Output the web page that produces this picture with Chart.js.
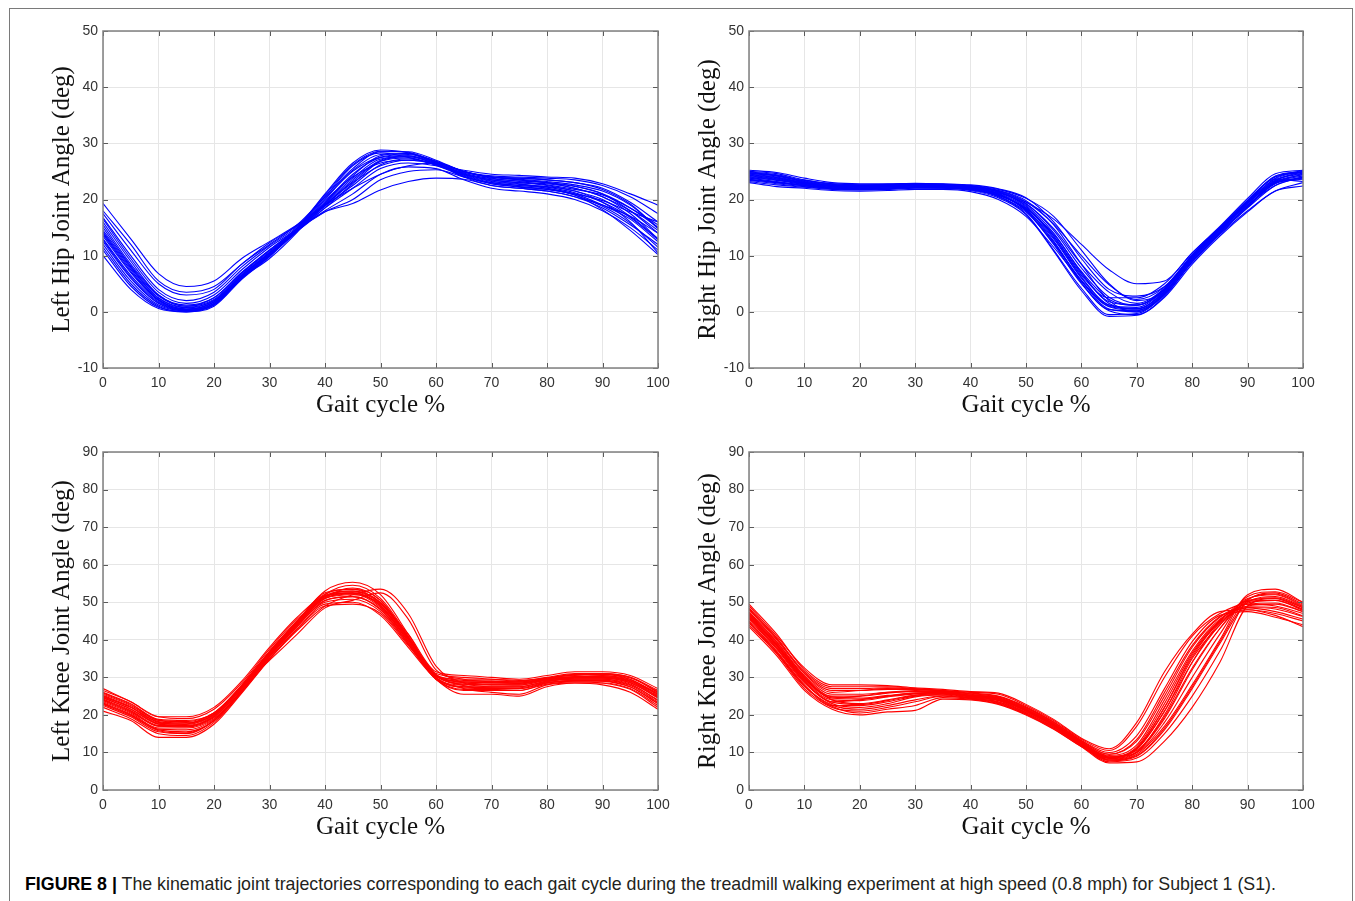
<!DOCTYPE html>
<html>
<head>
<meta charset="utf-8">
<title>Gait joint trajectories</title>
<script src="https://cdn.jsdelivr.net/npm/chart.js@4.4.1/dist/chart.umd.min.js"></script>
<style>
    html, body { margin: 0; padding: 0; background: #fff; }
    body { width: 1355px; height: 901px; position: relative; overflow: hidden; }
    .frame {
        position: absolute; left: 9px; top: 8px; width: 1344px; height: 1000px;
        border: 1.5px solid #7a7a7a; box-sizing: border-box;
    }
    canvas { position: absolute; }
    #leftHip   { left: 40px;  top: 15px; }
    #rightHip  { left: 686px; top: 15px; }
    #leftKnee  { left: 40px;  top: 436px; }
    #rightKnee { left: 686px; top: 436px; }
    .caption {
        position: absolute; left: 25px; top: 873px;
        font-family: "Liberation Sans", Arial, sans-serif; font-size: 17.8px; line-height: 22px;
        color: #231f20; white-space: nowrap;
    }
    .caption b { color: #000; }
</style>
</head>
<body>
<div class="frame"></div>
<canvas id="leftHip" width="638" height="406"></canvas>
<canvas id="rightHip" width="637" height="406"></canvas>
<canvas id="leftKnee" width="638" height="407"></canvas>
<canvas id="rightKnee" width="637" height="407"></canvas>
<div class="caption"><b>FIGURE 8 |</b> The kinematic joint trajectories corresponding to each gait cycle during the treadmill walking experiment at high speed (0.8 mph) for Subject 1 (S1).</div>

<script>
// ================= DATA =================
// gait cycle samples (%), one value per sample in every cycle below
const gaitPct = [0, 5, 10, 15, 20, 25, 30, 35, 40, 45, 50, 55, 60, 65, 70, 75, 80, 85, 90, 95, 100];

const hipTicks = [-10, 0, 10, 20, 30, 40, 50];
const kneeTicks = [0, 10, 20, 30, 40, 50, 60, 70, 80, 90];

// left hip angle (deg), one row per gait cycle
const leftHipCycles = [
    [19.3, 13, 6.8, 4.5, 5.5, 9.5, 12.5, 15.5, 19, 22, 24.5, 26, 26.5, 25, 24, 23.5, 23, 22, 20.5, 17.5, 13],
    [17.5, 11, 5, 3, 4, 8.5, 12, 15.5, 20.5, 25.5, 28.5, 28.5, 27, 25, 24, 23.8, 23.5, 23, 22, 19.5, 16],
    [16.5, 9.5, 3.5, 1.5, 3, 7.5, 11.5, 15, 21, 26.5, 28.8, 28.3, 26.5, 24.5, 23.5, 23, 22.5, 21.5, 20, 17, 13],
    [15.5, 8.5, 3, 1, 2.5, 7, 11, 14.8, 19.5, 24.5, 27.5, 28, 26.8, 25, 24.2, 24, 23.8, 23.5, 22.5, 20.5, 17.5],
    [14.5, 8, 2.5, 0.8, 2, 6.5, 10.5, 14.5, 19, 23.5, 27, 27.8, 26.5, 24, 22.5, 22, 21.5, 20.5, 18.5, 15.5, 12],
    [13.5, 7, 2, 0.3, 1.5, 6, 10, 14.5, 18.5, 22, 25.5, 26.5, 26, 24.5, 23.5, 23, 22.8, 22, 20.5, 18, 14.5],
    [12.5, 6, 1.5, 0.2, 1.5, 6.2, 10.2, 14.6, 18, 21, 24.5, 25.8, 25.5, 23.5, 22, 21.5, 21, 20, 18, 15, 11],
    [11.5, 5, 1, 0, 1, 5.8, 9.8, 14.4, 17.8, 20, 23.5, 25, 25.3, 24, 23, 22.5, 22, 21, 19, 16.5, 12.5],
    [12, 5.5, 1.2, 0.2, 1.2, 6, 10, 14.5, 17.8, 19.3, 21.7, 23.2, 23.8, 23.6, 22.5, 22, 21.5, 20.5, 19, 17, 14],
    [10, 4, 0.6, 0, 1.2, 6, 9.5, 14.2, 20, 25, 27.5, 27.8, 26.3, 24.8, 24, 23.5, 23, 22.3, 21, 18.5, 15],
    [16, 9, 3, 1.2, 2.5, 7, 11, 15, 20.5, 26, 28.3, 27.5, 26.2, 25.2, 24.5, 24.3, 24, 23.8, 22.8, 21, 19],
    [14, 7.5, 2.2, 0.5, 1.8, 6.5, 10.3, 14.7, 19.8, 24, 26.5, 27, 26.2, 24.3, 23, 22.5, 22.3, 21.5, 19.5, 16, 10.5],
    [18, 12, 5.5, 3.5, 4.5, 8.5, 12.3, 15.3, 19, 23, 26, 27, 26.5, 25, 23.8, 23.2, 22.6, 21.8, 20.8, 18.5, 15.5],
    [13, 6.5, 1.8, 0.4, 1.7, 6.3, 10.4, 14.6, 18.8, 22.5, 26.2, 27.2, 26.2, 24.6, 23.3, 22.8, 22, 20.8, 18.8, 15.8, 11.5],
    [15, 8.2, 2.8, 1, 2.2, 6.8, 10.8, 14.8, 20.2, 25.2, 28, 28.2, 26.6, 24.7, 23.7, 23.3, 23, 22.4, 21, 18, 14],
    [12.8, 6.2, 1.6, 0.3, 1.5, 6.1, 10.1, 14.5, 19.2, 23.8, 27.2, 27.6, 26.4, 24.4, 23.2, 22.7, 22.2, 21.2, 19.5, 16.8, 12.8],
    [16.8, 10, 4, 2, 3.5, 8, 11.8, 15.2, 20.8, 26.2, 28.6, 28.4, 26.8, 25, 24, 23.6, 23.2, 22.6, 21.5, 19, 15],
    [11, 4.6, 0.8, 0.1, 1.3, 6, 9.9, 14.3, 18.5, 22.8, 26.8, 27.6, 26.3, 24.2, 22.8, 22.2, 21.8, 21, 19.8, 17.8, 16],
    [14.2, 7.8, 2.4, 0.7, 2, 6.6, 10.6, 14.7, 19.4, 24.2, 27.8, 28.2, 26.7, 25, 24, 23.8, 23.5, 23, 21.8, 19.2, 14.8],
    [13.8, 7.2, 2.1, 0.5, 1.8, 6.4, 10.4, 14.6, 19, 23.2, 26.8, 27.4, 26.1, 24.1, 22.8, 22.3, 21.8, 20.8, 18.2, 14.5, 10.2]
];

// right hip angle (deg)
const rightHipCycles = [
    [25, 24.6, 23.5, 22.8, 22.6, 22.6, 22.6, 22.4, 22.2, 21.3, 19, 14, 7, 1.5, 0.5, 3.5, 9.5, 14.5, 19, 23, 24.5],
    [24.5, 24, 23, 22.5, 22.5, 22.7, 22.8, 22.6, 22.4, 21.6, 19.8, 15.5, 8.5, 2, 0, 3, 9, 14, 18.5, 22.5, 24],
    [24, 23.5, 22.8, 22.3, 22.2, 22.3, 22.4, 22.3, 22, 21, 18, 12, 5, 0.2, -0.5, 2.8, 9, 14.2, 18.8, 23.3, 25],
    [23.5, 23, 22.5, 22, 22, 22, 22.2, 22.2, 21.8, 20.5, 17.5, 11, 4.2, -0.5, -0.3, 3.2, 9.5, 14.8, 19.5, 23.8, 25.2],
    [23, 22.3, 22, 21.6, 21.5, 21.6, 21.8, 21.8, 21.4, 20, 17, 11.5, 5.5, 1, 0.5, 3.8, 10, 15, 19.8, 24, 24.8],
    [24.8, 24.3, 23.3, 22.7, 22.4, 22.5, 22.7, 22.7, 22.5, 21.8, 20.2, 17, 11, 5, 2, 3.5, 9.2, 13.8, 18, 21.5, 23],
    [24.2, 23.7, 22.9, 22.4, 22.3, 22.4, 22.6, 22.5, 22.3, 21.5, 19.5, 16.5, 12, 7.5, 5, 5.5, 10.5, 15, 19, 22.5, 24],
    [23.8, 23.2, 22.6, 22.1, 22, 22.1, 22.3, 22.2, 21.9, 20.8, 18.2, 13, 6, 1.2, 0.8, 4, 9.8, 14.5, 19.3, 23.5, 24.7],
    [24.6, 24.2, 23.2, 22.6, 22.4, 22.6, 22.8, 22.7, 22.4, 21.4, 18.8, 13.5, 6.5, 2.5, 2.5, 5, 10.5, 15.2, 20.2, 24.6, 25.2],
    [23.2, 22.6, 22.2, 21.8, 21.7, 21.8, 22, 22, 21.6, 20.3, 17.3, 10.8, 3.8, -0.8, -0.6, 2.6, 8.5, 13.5, 17.8, 21.5, 22.4],
    [24.3, 23.8, 23, 22.5, 22.3, 22.4, 22.5, 22.4, 22.1, 21.2, 19.2, 14.8, 8.5, 3.5, 1.5, 4.2, 10, 14.8, 19.5, 23, 23.8],
    [23.6, 23, 22.4, 22, 21.9, 22, 22.1, 22, 21.7, 20.7, 18.5, 13.5, 6.8, 1.8, 1.2, 4, 9.6, 14.2, 18.8, 22.8, 24],
    [25.2, 24.8, 23.8, 23, 22.8, 22.8, 22.9, 22.8, 22.6, 21.9, 20.3, 16, 9.5, 4, 2.8, 4.5, 10.2, 15, 19.8, 24.2, 25],
    [23.4, 22.8, 22.3, 21.9, 21.8, 21.9, 22.1, 22.1, 21.8, 20.6, 17.8, 12.2, 5.5, 0.5, 0, 3.3, 9.3, 14.6, 19.6, 23.6, 23.2],
    [24.4, 23.9, 22.9, 22.4, 22.3, 22.4, 22.5, 22.4, 22.1, 21.1, 18.6, 13.2, 6.2, 1.2, 0.6, 3.6, 9.6, 14.6, 19.4, 23.4, 24.6],
    [23.9, 23.4, 22.7, 22.2, 22.1, 22.2, 22.4, 22.3, 22, 20.9, 18.3, 12.6, 5.2, 0.4, 0.2, 3.4, 9.4, 14.4, 19.2, 23.2, 24.4],
    [24.7, 24.2, 23.1, 22.5, 22.4, 22.5, 22.6, 22.6, 22.3, 21.4, 19.3, 14.5, 7.8, 2.6, 1.2, 3.9, 9.8, 14.7, 19.6, 23.7, 25],
    [23.6, 23.1, 22.5, 22.1, 22, 22.1, 22.2, 22.1, 21.8, 20.8, 18.4, 13.8, 7.2, 2.2, 1.2, 4.1, 9.9, 14.9, 19.9, 24.1, 24.9],
    [24.1, 23.6, 22.8, 22.3, 22.2, 22.3, 22.5, 22.4, 22.1, 21, 18.1, 12.4, 5.6, 0.9, 0.3, 3.1, 8.8, 13.9, 18.6, 22.9, 23.6],
    [24.9, 24.4, 23.4, 22.8, 22.6, 22.7, 22.8, 22.7, 22.4, 21.6, 19.6, 15.6, 10, 4.8, 2.2, 4.4, 10.1, 14.9, 19.4, 23.1, 24.2]
];

// left knee angle (deg)
const leftKneeCycles = [
    [27, 23.5, 19.5, 19, 21.5, 28.5, 37.5, 45.5, 51, 52, 49.5, 41.5, 31.5, 30.5, 30, 29.5, 30.5, 31.5, 31.5, 30.5, 27],
    [25.5, 22.5, 18.5, 18, 20, 27.5, 36.5, 44.5, 51.5, 53, 50, 40.5, 30.5, 28.5, 28.5, 28.5, 29.5, 30, 30, 29, 25],
    [24.5, 21.5, 17.5, 17, 19.5, 27, 36, 44, 52, 54.5, 51, 41, 30, 27.5, 27.5, 27.5, 29, 29.5, 29.5, 28, 24],
    [23.5, 20.5, 16.5, 16.5, 19, 26.5, 35.5, 43.5, 50.5, 51.5, 48, 39, 29.5, 26.5, 26.5, 26.5, 28.5, 29, 29, 27.5, 23],
    [22, 19, 15, 14.5, 18, 26, 35, 43, 49.5, 50, 46.5, 38, 29.5, 25.5, 25.5, 25, 27.5, 28.5, 28, 26, 21.5],
    [26, 23, 18.8, 18.5, 20.5, 28, 37, 45, 52.5, 53.5, 50.5, 40.5, 31, 30, 29.5, 29, 30, 31, 31, 30, 26],
    [21, 18.5, 14, 14, 17.5, 25.8, 34.8, 42.8, 49, 49.5, 47, 38.5, 30, 27, 26, 25.5, 28, 28.5, 28.5, 27, 22.5],
    [24, 21, 17, 17.5, 20.5, 27.5, 35, 42.5, 49, 52, 53.5, 47, 33, 28.5, 27.5, 27.5, 29, 30, 30.5, 29, 25.5],
    [25, 22, 18, 17.5, 20, 27.8, 36.8, 45, 53, 55.3, 52, 41.5, 30.5, 29, 29, 28.8, 29.5, 30.2, 30.2, 29.2, 25.8],
    [23, 20, 16, 15.5, 18.5, 26.5, 36, 44.2, 51, 52.5, 49, 39.5, 29.8, 28, 28, 28, 29.2, 29.5, 29.5, 28.2, 23.8],
    [24.8, 22, 17.8, 17.5, 20.2, 27.5, 34.5, 41.5, 48.5, 50.5, 52.5, 45.5, 32, 29.5, 28.8, 28.5, 29.8, 30.5, 31, 30, 26.5],
    [22.5, 19.5, 15.5, 15, 18.5, 26.5, 35.8, 44, 50, 50.8, 47.5, 38.8, 29.5, 26.8, 26.8, 26.5, 28.2, 28.8, 28.5, 26.8, 22],
    [26.5, 23.5, 19.5, 19.5, 22, 29, 38, 46, 51.8, 52.5, 49.2, 40, 30.2, 29.5, 29.5, 29.2, 29.8, 30.8, 30.8, 29.5, 25.5],
    [23.8, 20.8, 17, 16.8, 19.3, 27, 36.2, 44.3, 51.2, 53.8, 50.5, 40.8, 30.8, 27.8, 27.2, 27.2, 28.8, 29.8, 29.8, 28.5, 24.5],
    [24.2, 21.2, 17.2, 17, 19.6, 27.2, 36.4, 44.6, 51.5, 52.8, 49.6, 40.6, 30.4, 28.2, 28, 27.9, 29.3, 29.8, 29.8, 28.6, 24.6],
    [25.2, 22.2, 18.2, 17.8, 20.2, 27.6, 36.6, 44.8, 52.2, 53.4, 49.8, 40.2, 30.2, 28.8, 28.6, 28.4, 29.6, 30.2, 30.4, 29.4, 25.2],
    [23.2, 20.2, 16.2, 16, 18.8, 26.6, 35.8, 44, 51.2, 52.2, 48.6, 39.6, 29.8, 27.2, 27, 27, 28.6, 29.2, 29.2, 27.8, 23.4],
    [24.6, 21.6, 17.6, 17.2, 19.8, 27.4, 36.6, 44.8, 51.8, 53, 49.8, 40.4, 30.6, 28.6, 28.2, 28.2, 29.4, 30, 30, 28.8, 24.8],
    [22.8, 19.8, 15.8, 15.2, 18.4, 26.2, 35.4, 43.6, 50.4, 51.5, 48.2, 39.2, 29.6, 27.5, 27.2, 27, 28.5, 29.2, 29, 27.4, 23],
    [25.8, 22.8, 18.6, 18.2, 20.6, 27.8, 36.8, 45, 51.6, 52.4, 49, 40, 30.6, 29.2, 29, 28.8, 29.8, 30.6, 30.8, 29.8, 26.2]
];

// right knee angle (deg)
const rightKneeCycles = [
    [49.5, 41.5, 32, 27.5, 27.5, 27.5, 27, 26.5, 26, 25.5, 22.5, 18.5, 13.5, 10.5, 17, 30, 41, 47, 49.5, 49, 47],
    [48, 40, 31, 26, 26.5, 27, 26.8, 26.5, 25.5, 24.8, 22, 18, 13, 9.5, 13, 25, 38, 46, 49, 49.5, 47.5],
    [47, 39, 30, 24.5, 25, 26, 26.5, 26.2, 25.2, 24.5, 21.5, 17.5, 12.5, 8.5, 11, 22, 36, 45, 50.5, 51, 48.5],
    [46, 38, 29, 23.5, 24, 25, 25.8, 26, 25, 24.2, 21, 17.2, 12.2, 8.2, 10, 19, 32, 43, 51, 52, 49],
    [45, 37, 28, 22.5, 22.5, 23.5, 25, 25.5, 24.6, 23.8, 20.6, 16.8, 12, 8, 9.5, 17, 28, 40, 52, 53.5, 50],
    [44, 36.3, 27, 22, 21, 22, 23.5, 25, 24.3, 23.2, 20.3, 16.5, 11.8, 7.5, 8.5, 15, 25, 37, 50.5, 52.5, 49.5],
    [43.5, 35.8, 26.5, 21.5, 20, 20.8, 21.2, 24.2, 24, 22.8, 20, 16.2, 11.5, 7.2, 7.5, 13, 22, 34, 49, 51, 48],
    [46.5, 38.5, 29.5, 24, 23, 24, 25.3, 25.7, 24.8, 24, 21.2, 17.4, 12.8, 9, 10.5, 20, 34, 44.5, 48, 47, 45],
    [48.5, 40.5, 31.5, 27, 27, 27.2, 26.9, 26.3, 25.8, 25, 22.2, 18.2, 13.2, 10, 14.5, 27, 39.5, 46.5, 47.5, 46, 44],
    [45.5, 37.5, 28.5, 23, 22, 23, 24.8, 25.3, 24.5, 23.5, 20.8, 17, 12, 8.8, 10, 18, 30, 41.5, 51.5, 52.8, 50],
    [47.5, 39.5, 30.5, 25.5, 25.5, 26, 26.2, 26.1, 25.3, 24.6, 21.7, 17.8, 12.7, 9.2, 12, 24, 37, 45.5, 48.5, 47.5, 45.5],
    [44.5, 36.5, 27.5, 22.3, 20.5, 21.5, 22.5, 24.6, 24.2, 23, 20.2, 16.3, 11.6, 7.8, 9, 16, 27, 39, 50, 51.5, 48.8],
    [49, 41, 32.5, 28, 28, 27.8, 27.2, 26.8, 26.2, 25.8, 22.8, 18.8, 13.8, 11, 18, 31.5, 41.5, 47.5, 48, 46.5, 43.5],
    [46.8, 38.7, 29.8, 24.8, 24.5, 25.2, 25.8, 25.9, 25, 24.3, 21.4, 17.6, 12.6, 8.6, 11, 21, 35, 44, 50.3, 50.5, 47.8],
    [47.2, 39.3, 30.2, 25, 25, 25.8, 26.3, 26.2, 25.2, 24.4, 21.5, 17.6, 12.7, 8.8, 11.5, 23, 36.5, 45.2, 49.5, 49.8, 47.5],
    [46.2, 38.3, 29.2, 24, 23.8, 24.8, 25.6, 25.9, 25, 24.2, 21.2, 17.3, 12.4, 8.5, 10.8, 21, 34, 44, 49.8, 50.5, 48.2],
    [45.8, 37.8, 28.8, 23.4, 22.8, 23.8, 25.2, 25.6, 24.8, 23.9, 21, 17.2, 12.2, 8.4, 10.2, 19.5, 32.5, 43, 50.2, 51.2, 48.6],
    [48.2, 40.3, 31.2, 26.5, 26.5, 26.8, 26.8, 26.4, 25.6, 24.9, 21.9, 18, 13.1, 9.5, 13.5, 26, 38.5, 46.2, 48.8, 48.6, 46.4],
    [44.8, 36.8, 27.8, 22.6, 21.5, 22.5, 24, 25.1, 24.4, 23.4, 20.5, 16.7, 11.9, 8, 9.2, 16.5, 27.5, 39.5, 50.8, 52.2, 49.2],
    [46.6, 38.6, 29.6, 24.5, 24.2, 25, 25.7, 25.8, 24.9, 24.2, 21.3, 17.5, 12.5, 8.7, 11.2, 22, 35.5, 44.8, 48.6, 48.2, 46.2]
];

// ================= AXES BOX + INWARD TICKS =================
const boxTicks = {
    id: 'boxTicks',
    afterDraw(chart) {
        const { ctx, chartArea: a, scales } = chart;
        const len = 5;
        ctx.save();
        ctx.strokeStyle = '#5a5a5a';
        ctx.lineWidth = 1;
        ctx.beginPath();
        scales.x.ticks.forEach(t => {
            const px = Math.round(scales.x.getPixelForValue(t.value)) + 0.5;
            ctx.moveTo(px, a.bottom); ctx.lineTo(px, a.bottom - len);
            ctx.moveTo(px, a.top); ctx.lineTo(px, a.top + len);
        });
        scales.y.ticks.forEach(t => {
            const py = Math.round(scales.y.getPixelForValue(t.value)) + 0.5;
            ctx.moveTo(a.left, py); ctx.lineTo(a.left + len, py);
            ctx.moveTo(a.right, py); ctx.lineTo(a.right - len, py);
        });
        ctx.stroke();
        ctx.strokeStyle = '#808080';
        ctx.lineWidth = 1.5;
        ctx.strokeRect(a.left, a.top, a.right - a.left, a.bottom - a.top);
        ctx.restore();
    }
};

// ================= BUILD PANELS =================
function buildDatasets(cycles, color) {
    return cycles.map(vals => ({
        data: vals.map((v, i) => ({ x: gaitPct[i], y: v })),
        borderColor: color,
        borderWidth: 1.1,
        pointRadius: 0,
        fill: false,
        cubicInterpolationMode: 'monotone'
    }));
}

function makePanel(id, cycles, color, yTitle, yTicks) {
    const canvas = document.getElementById(id);
    const tickFont = { family: '"Liberation Sans", Arial, sans-serif', size: 14 };
    const titleFont = { family: '"Liberation Serif", "Times New Roman", serif', size: 25 };

    return new Chart(canvas, {
        type: 'line',
        data: { datasets: buildDatasets(cycles, color) },
        options: {
            responsive: false,
            animation: false,
            events: [],
            layout: { padding: { top: 16, right: 20, left: 0, bottom: 0 } },
            plugins: { legend: { display: false }, tooltip: { enabled: false } },
            scales: {
                x: {
                    type: 'linear',
                    min: 0, max: 100,
                    ticks: { stepSize: 10, color: '#333', font: tickFont, padding: 7, maxRotation: 0 },
                    grid: { color: '#e6e6e6', drawTicks: false },
                    border: { display: false },
                    title: { display: true, text: 'Gait cycle %', color: '#111', font: titleFont, padding: { top: 0, bottom: 1 } },
                    afterFit: s => { s.height = 53; }
                },
                y: {
                    type: 'linear',
                    min: yTicks[0], max: yTicks[yTicks.length - 1],
                    ticks: { stepSize: 10, color: '#333', font: tickFont, padding: 5 },
                    grid: { color: '#e6e6e6', drawTicks: false },
                    border: { display: false },
                    title: { display: true, text: yTitle, color: '#111', font: titleFont, padding: { top: 7, bottom: 0 } },
                    afterFit: s => { s.width = 63; }
                }
            }
        },
        plugins: [boxTicks]
    });
}

// ================= RENDER =================
makePanel('leftHip', leftHipCycles, '#0000ff', 'Left Hip Joint Angle (deg)', hipTicks);
makePanel('rightHip', rightHipCycles, '#0000ff', 'Right Hip Joint Angle (deg)', hipTicks);
makePanel('leftKnee', leftKneeCycles, '#ff0000', 'Left Knee Joint Angle (deg)', kneeTicks);
makePanel('rightKnee', rightKneeCycles, '#ff0000', 'Right Knee Joint Angle (deg)', kneeTicks);
</script>
</body>
</html>
